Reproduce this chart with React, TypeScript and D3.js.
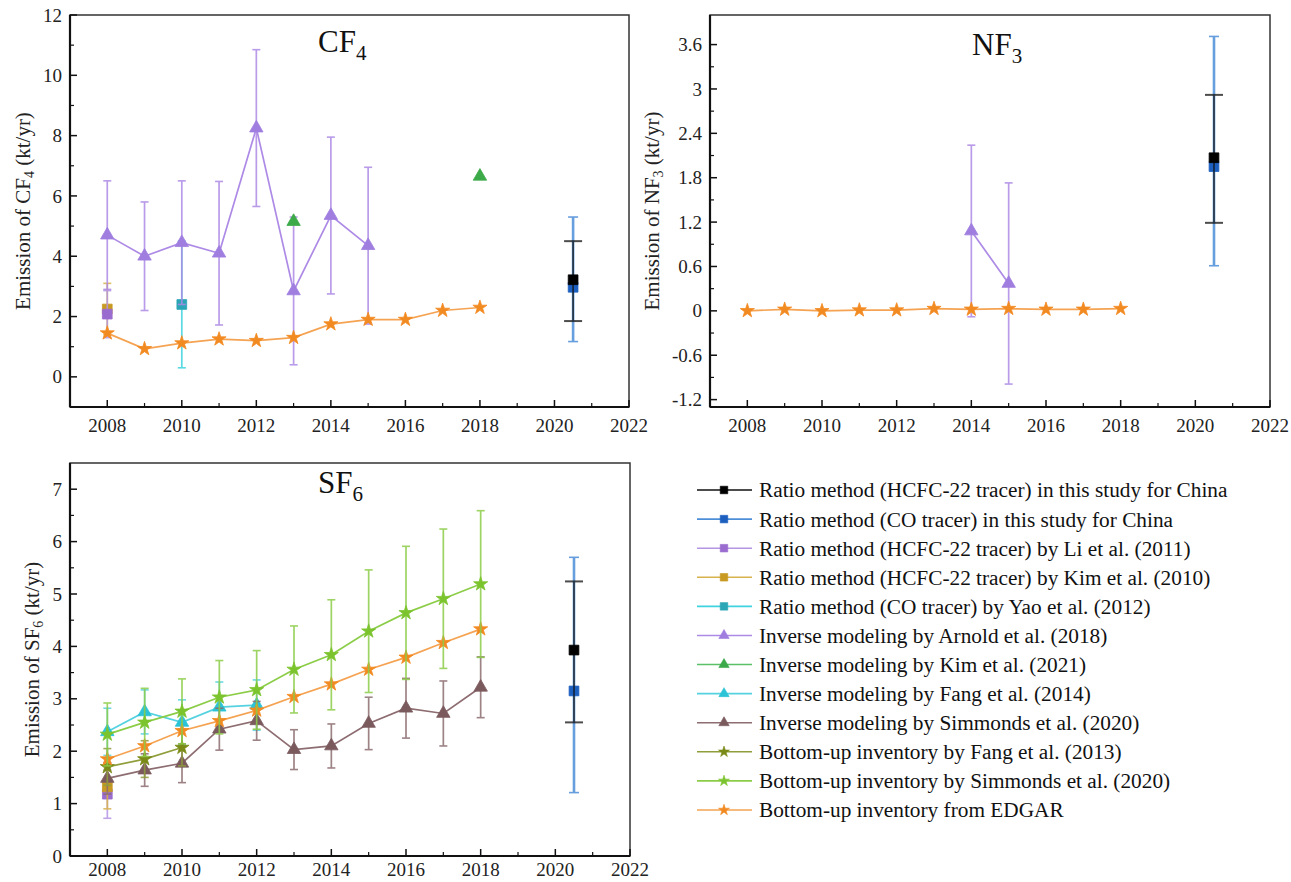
import React, { useEffect, useRef } from 'react';
import * as d3 from 'd3';

// ---- values ----
const edgarYears = [2008, 2009, 2010, 2011, 2012, 2013, 2014, 2015, 2016, 2017, 2018];
const thisStudyYear = [2020.5];

// CF4
const cf4Edgar = [1.45, 0.93, 1.12, 1.25, 1.2, 1.3, 1.75, 1.9, 1.9, 2.2, 2.3];
const cf4ArnoldYears = [2008, 2009, 2010, 2011, 2012, 2013, 2014, 2015];
const cf4Arnold = [4.7, 4.0, 4.45, 4.1, 8.25, 2.85, 5.35, 4.35];
const cf4ArnoldErr = [1.8, 1.8, 2.05, 2.38, 2.6, 2.45, 2.6, 2.6];
const cf4Kim2021Years = [2013, 2018];
const cf4Kim2021 = [5.15, 6.65];
const cf4Li2011 = [2.08];
const cf4Li2011Err = [0.78];
const cf4Kim2010 = [2.25];
const cf4Kim2010Err = [0.85];
const cf4Yao2012 = [2.4];
const cf4Yao2012Err = [2.1];
const cf4Hcfc = [3.22];
const cf4HcfcLo = [1.85];
const cf4HcfcHi = [4.5];
const cf4Co = [2.97];
const cf4CoLo = [1.17];
const cf4CoHi = [5.3];

// NF3
const nf3Edgar = [0.0, 0.02, 0.0, 0.01, 0.01, 0.03, 0.02, 0.03, 0.02, 0.02, 0.03];
const nf3ArnoldYears = [2014, 2015];
const nf3Arnold = [1.08, 0.37];
const nf3ArnoldErr = [1.16, 1.36];
const nf3Hcfc = [2.07];
const nf3HcfcLo = [1.19];
const nf3HcfcHi = [2.92];
const nf3Co = [1.95];
const nf3CoLo = [0.61];
const nf3CoHi = [3.71];

// SF6
const sf6Edgar = [1.85, 2.1, 2.39, 2.58, 2.78, 3.04, 3.28, 3.56, 3.79, 4.07, 4.33];
const sf6SimBU = [2.32, 2.55, 2.76, 3.03, 3.17, 3.56, 3.84, 4.29, 4.64, 4.91, 5.19];
const sf6SimBUErr = [0.6, 0.65, 0.62, 0.7, 0.75, 0.83, 1.05, 1.17, 1.27, 1.33, 1.4];
const sf6SimInv = [1.48, 1.64, 1.77, 2.42, 2.58, 2.03, 2.1, 2.53, 2.82, 2.72, 3.22];
const sf6SimInvErr = [0.3, 0.31, 0.37, 0.4, 0.37, 0.38, 0.42, 0.5, 0.57, 0.62, 0.58];
const sf6Fang2014Years = [2008, 2009, 2010, 2011, 2012];
const sf6Fang2014 = [2.37, 2.75, 2.55, 2.84, 2.88];
const sf6Fang2014Err = [0.45, 0.42, 0.43, 0.48, 0.48];
const sf6Fang2013Years = [2008, 2009, 2010];
const sf6Fang2013 = [1.7, 1.85, 2.07];
const sf6Fang2013Err = [0.35, 0.35, 0.35];
const sf6Li2011 = [1.18];
const sf6Li2011Err = [0.46];
const sf6Kim2010 = [1.32];
const sf6Kim2010Err = [0.42];
const sf6Hcfc = [3.93];
const sf6HcfcLo = [2.55];
const sf6HcfcHi = [5.24];
const sf6Co = [3.15];
const sf6CoLo = [1.21];
const sf6CoHi = [5.7];

const xTicks = [2008, 2010, 2012, 2014, 2016, 2018, 2020, 2022];
const cf4Ticks = [0, 2, 4, 6, 8, 10, 12];
const nf3Ticks = [-1.2, -0.6, 0, 0.6, 1.2, 1.8, 2.4, 3, 3.6];
const sf6Ticks = [0, 1, 2, 3, 4, 5, 6, 7];

const legendIds = ['hcfcThis', 'coThis', 'li2011', 'kim2010', 'yao2012', 'arnold', 'kim2021', 'fang2014', 'simInv', 'fang2013', 'simBU', 'edgar'];
const legendNames = [
  'Ratio method (HCFC-22 tracer) in this study for China',
  'Ratio method (CO tracer) in this study for China',
  'Ratio method (HCFC-22 tracer) by Li et al. (2011)',
  'Ratio method (HCFC-22 tracer) by Kim et al. (2010)',
  'Ratio method (CO tracer) by Yao et al. (2012)',
  'Inverse modeling by Arnold et al. (2018)',
  'Inverse modeling by Kim et al. (2021)',
  'Inverse modeling by Fang et al. (2014)',
  'Inverse modeling by Simmonds et al. (2020)',
  'Bottom-up inventory by Fang et al. (2013)',
  'Bottom-up inventory by Simmonds et al. (2020)',
  'Bottom-up inventory from EDGAR',
];

// ---- styles ----
const STYLE: Record<string, { color: string; bar: string; shape: string; cap: number }> = {
  hcfcThis: { color: '#000000', bar: '#111111', shape: 'square', cap: 9 },
  coThis: { color: '#1d5fbf', bar: '#4d8ed8', shape: 'square', cap: 5 },
  li2011: { color: '#9a6cd0', bar: '#b596e4', shape: 'square', cap: 4 },
  kim2010: { color: '#c99a22', bar: '#d8b24c', shape: 'square', cap: 4 },
  yao2012: { color: '#2aa6b6', bar: '#3ed3df', shape: 'square', cap: 4 },
  arnold: { color: '#a07ee0', bar: '#ad8ae6', shape: 'triangle', cap: 4 },
  kim2021: { color: '#3daa4a', bar: '#5cc068', shape: 'triangle', cap: 4 },
  fang2014: { color: '#2cc3d6', bar: '#55d2e0', shape: 'triangle', cap: 4 },
  simInv: { color: '#7b5a5e', bar: '#8d6d71', shape: 'triangle', cap: 4 },
  fang2013: { color: '#7a8a16', bar: '#909e3c', shape: 'star', cap: 4 },
  simBU: { color: '#7cc42e', bar: '#8ccd48', shape: 'star', cap: 4 },
  edgar: { color: '#f28a22', bar: '#f5a352', shape: 'star', cap: 4 },
};

const FONT = '"Liberation Serif", "Times New Roman", serif';

type Series = { id: string; x: number[]; y: number[]; err?: number[]; lo?: number[]; hi?: number[]; line?: boolean };

const panels = [
  {
    title: 'CF', sub: '4', box: { x0: 70, x1: 629, y0: 15, y1: 407 }, yDomain: [-1, 12], ticks: cf4Ticks,
    labelX: 30, titleDx: 248, titleY: 52, xLabelDy: 25,
    series: [
      { id: 'kim2010', x: [2008], y: cf4Kim2010, err: cf4Kim2010Err },
      { id: 'li2011', x: [2008], y: cf4Li2011, err: cf4Li2011Err },
      { id: 'yao2012', x: [2010], y: cf4Yao2012, err: cf4Yao2012Err },
      { id: 'arnold', x: cf4ArnoldYears, y: cf4Arnold, err: cf4ArnoldErr, line: true },
      { id: 'kim2021', x: cf4Kim2021Years, y: cf4Kim2021 },
      { id: 'edgar', x: edgarYears, y: cf4Edgar, line: true },
      { id: 'coThis', x: thisStudyYear, y: cf4Co, lo: cf4CoLo, hi: cf4CoHi },
      { id: 'hcfcThis', x: thisStudyYear, y: cf4Hcfc, lo: cf4HcfcLo, hi: cf4HcfcHi },
    ] as Series[],
  },
  {
    title: 'NF', sub: '3', box: { x0: 710, x1: 1270, y0: 15, y1: 407 }, yDomain: [-1.3, 4.0], ticks: nf3Ticks,
    labelX: 659, titleDx: 262, titleY: 55, xLabelDy: 25,
    series: [
      { id: 'arnold', x: nf3ArnoldYears, y: nf3Arnold, err: nf3ArnoldErr, line: true },
      { id: 'edgar', x: edgarYears, y: nf3Edgar, line: true },
      { id: 'coThis', x: thisStudyYear, y: nf3Co, lo: nf3CoLo, hi: nf3CoHi },
      { id: 'hcfcThis', x: thisStudyYear, y: nf3Hcfc, lo: nf3HcfcLo, hi: nf3HcfcHi },
    ] as Series[],
  },
  {
    title: 'SF', sub: '6', box: { x0: 70, x1: 630, y0: 463, y1: 856 }, yDomain: [0, 7.5], ticks: sf6Ticks,
    labelX: 39, titleDx: 248, titleY: 493, xLabelDy: 20,
    series: [
      { id: 'li2011', x: [2008], y: sf6Li2011, err: sf6Li2011Err },
      { id: 'kim2010', x: [2008], y: sf6Kim2010, err: sf6Kim2010Err },
      { id: 'fang2014', x: sf6Fang2014Years, y: sf6Fang2014, err: sf6Fang2014Err, line: true },
      { id: 'simInv', x: edgarYears, y: sf6SimInv, err: sf6SimInvErr, line: true },
      { id: 'fang2013', x: sf6Fang2013Years, y: sf6Fang2013, err: sf6Fang2013Err, line: true },
      { id: 'edgar', x: edgarYears, y: sf6Edgar, line: true },
      { id: 'simBU', x: edgarYears, y: sf6SimBU, err: sf6SimBUErr, line: true },
      { id: 'coThis', x: thisStudyYear, y: sf6Co, lo: sf6CoLo, hi: sf6CoHi },
      { id: 'hcfcThis', x: thisStudyYear, y: sf6Hcfc, lo: sf6HcfcLo, hi: sf6HcfcHi },
    ] as Series[],
  },
];

const symbolPath = (shape: string, scale = 1) => {
  if (shape === 'square') return d3.symbol().type(d3.symbolSquare).size(95 * scale)()!;
  if (shape === 'triangle') return d3.symbol().type(d3.symbolTriangle).size(78 * scale)()!;
  return d3.symbol().type(d3.symbolStar).size(62 * scale)()!;
};

const fmt = (v: number) => String(+v.toFixed(1));

function drawPanel(svg: d3.Selection<SVGSVGElement, unknown, null, undefined>, p: typeof panels[number]) {
  const { x0, x1, y0, y1 } = p.box;
  const x = d3.scaleLinear().domain([2007, 2022]).range([x0, x1]);
  const y = d3.scaleLinear().domain(p.yDomain).range([y1, y0]);
  const g = svg.append('g');

  g.append('rect').attr('x', x0).attr('y', y0).attr('width', x1 - x0).attr('height', y1 - y0)
    .attr('fill', 'none').attr('stroke', '#333').attr('stroke-width', 1.5);
  g.append('line').attr('x1', x0).attr('x2', x0).attr('y1', y0).attr('y2', y1).attr('stroke', '#111').attr('stroke-width', 2.2);
  g.append('line').attr('x1', x0).attr('x2', x1).attr('y1', y1).attr('y2', y1).attr('stroke', '#111').attr('stroke-width', 2.2);

  // x ticks (inward)
  xTicks.forEach(v => {
    g.append('line').attr('x1', x(v)).attr('x2', x(v)).attr('y1', y1).attr('y2', y1 - 7).attr('stroke', '#111').attr('stroke-width', 1.5);
    g.append('text').attr('x', x(v)).attr('y', y1 + p.xLabelDy).attr('text-anchor', 'middle')
      .attr('font-family', FONT).attr('font-size', 19).attr('fill', '#222').text(v);
  });
  d3.range(2009, 2022, 2).forEach(v => {
    g.append('line').attr('x1', x(v)).attr('x2', x(v)).attr('y1', y1).attr('y2', y1 - 4).attr('stroke', '#111').attr('stroke-width', 1.2);
  });
  // y ticks
  p.ticks.forEach(v => {
    g.append('line').attr('x1', x0).attr('x2', x0 + 7).attr('y1', y(v)).attr('y2', y(v)).attr('stroke', '#111').attr('stroke-width', 1.5);
    g.append('text').attr('x', x0 - 8).attr('y', y(v)).attr('dy', '0.35em').attr('text-anchor', 'end')
      .attr('font-family', FONT).attr('font-size', 19).attr('fill', '#222').text(fmt(v));
  });
  const step = p.ticks[1] - p.ticks[0];
  p.ticks.slice(0, -1).forEach(v => {
    const m = v + step / 2;
    g.append('line').attr('x1', x0).attr('x2', x0 + 4).attr('y1', y(m)).attr('y2', y(m)).attr('stroke', '#111').attr('stroke-width', 1.2);
  });

  // y label
  const lab = g.append('text').attr('transform', `translate(${p.labelX},${(y0 + y1) / 2}) rotate(-90)`)
    .attr('text-anchor', 'middle').attr('font-family', FONT).attr('font-size', 21).attr('fill', '#222');
  lab.append('tspan').text(`Emission of ${p.title}`);
  lab.append('tspan').attr('font-size', 14).attr('dy', 4).text(p.sub);
  lab.append('tspan').attr('dy', -4).text(' (kt/yr)');

  // title
  const t = g.append('text').attr('x', x0 + p.titleDx).attr('y', p.titleY).attr('font-family', FONT)
    .attr('font-size', 31).attr('fill', '#111');
  t.append('tspan').text(p.title);
  t.append('tspan').attr('font-size', 21).attr('dy', 8).text(p.sub);

  // series
  p.series.forEach(s => {
    const st = STYLE[s.id];
    const sg = g.append('g');
    const lo = s.lo ?? (s.err ? s.y.map((v, i) => v - s.err![i]) : null);
    const hi = s.hi ?? (s.err ? s.y.map((v, i) => v + s.err![i]) : null);
    if (lo && hi) {
      const isThis = s.id === 'hcfcThis';
      const w = s.id === 'coThis' ? 2.6 : 1.7;
      s.x.forEach((xv, i) => {
        const eb = sg.append('g').attr('stroke', st.bar).attr('stroke-width', w).attr('opacity', isThis ? 0.75 : 0.85);
        eb.append('line').attr('x1', x(xv)).attr('x2', x(xv)).attr('y1', y(lo[i])).attr('y2', y(hi[i]));
        [lo[i], hi[i]].forEach(v => {
          eb.append('line').attr('x1', x(xv) - st.cap).attr('x2', x(xv) + st.cap).attr('y1', y(v)).attr('y2', y(v))
            .attr('stroke-width', isThis ? 2 : 1.6);
        });
      });
    }
    if (s.line) {
      const line = d3.line<number>().x((_, i) => x(s.x[i])).y(v => y(v));
      sg.append('path').attr('d', line(s.y)!).attr('fill', 'none').attr('stroke', st.bar).attr('stroke-width', 1.7);
    }
    s.y.forEach((v, i) => {
      sg.append('path').attr('d', symbolPath(st.shape)).attr('transform', `translate(${x(s.x[i])},${y(v)})`)
        .attr('fill', st.color).attr('stroke', st.color).attr('stroke-width', 0.8);
    });
  });
}

function drawLegend(svg: d3.Selection<SVGSVGElement, unknown, null, undefined>) {
  const rowY = d3.scalePoint<number>().domain(d3.range(legendIds.length)).range([490, 810]);
  const g = svg.append('g');
  legendIds.forEach((id, i) => {
    const st = STYLE[id];
    const cy = rowY(i)!;
    g.append('line').attr('x1', 697).attr('x2', 752).attr('y1', cy).attr('y2', cy)
      .attr('stroke', st.bar).attr('stroke-width', 1.6);
    g.append('path').attr('d', symbolPath(st.shape, 0.6)).attr('transform', `translate(724,${cy})`)
      .attr('fill', st.color).attr('stroke', st.color).attr('stroke-width', 0.6);
    g.append('text').attr('x', 759).attr('y', cy).attr('dy', '0.35em').attr('font-family', FONT)
      .attr('font-size', 21.3).attr('fill', '#111').text(legendNames[i]);
  });
}

export default function App() {
  const ref = useRef<SVGSVGElement>(null);
  useEffect(() => {
    if (!ref.current) return;
    const svg = d3.select(ref.current);
    svg.selectAll('*').remove();
    panels.forEach(p => drawPanel(svg, p));
    drawLegend(svg);
  }, []);
  return <svg ref={ref} width={1291} height={882} style={{ position: 'absolute', left: 0, top: 0, background: '#fff' }} />;
}
